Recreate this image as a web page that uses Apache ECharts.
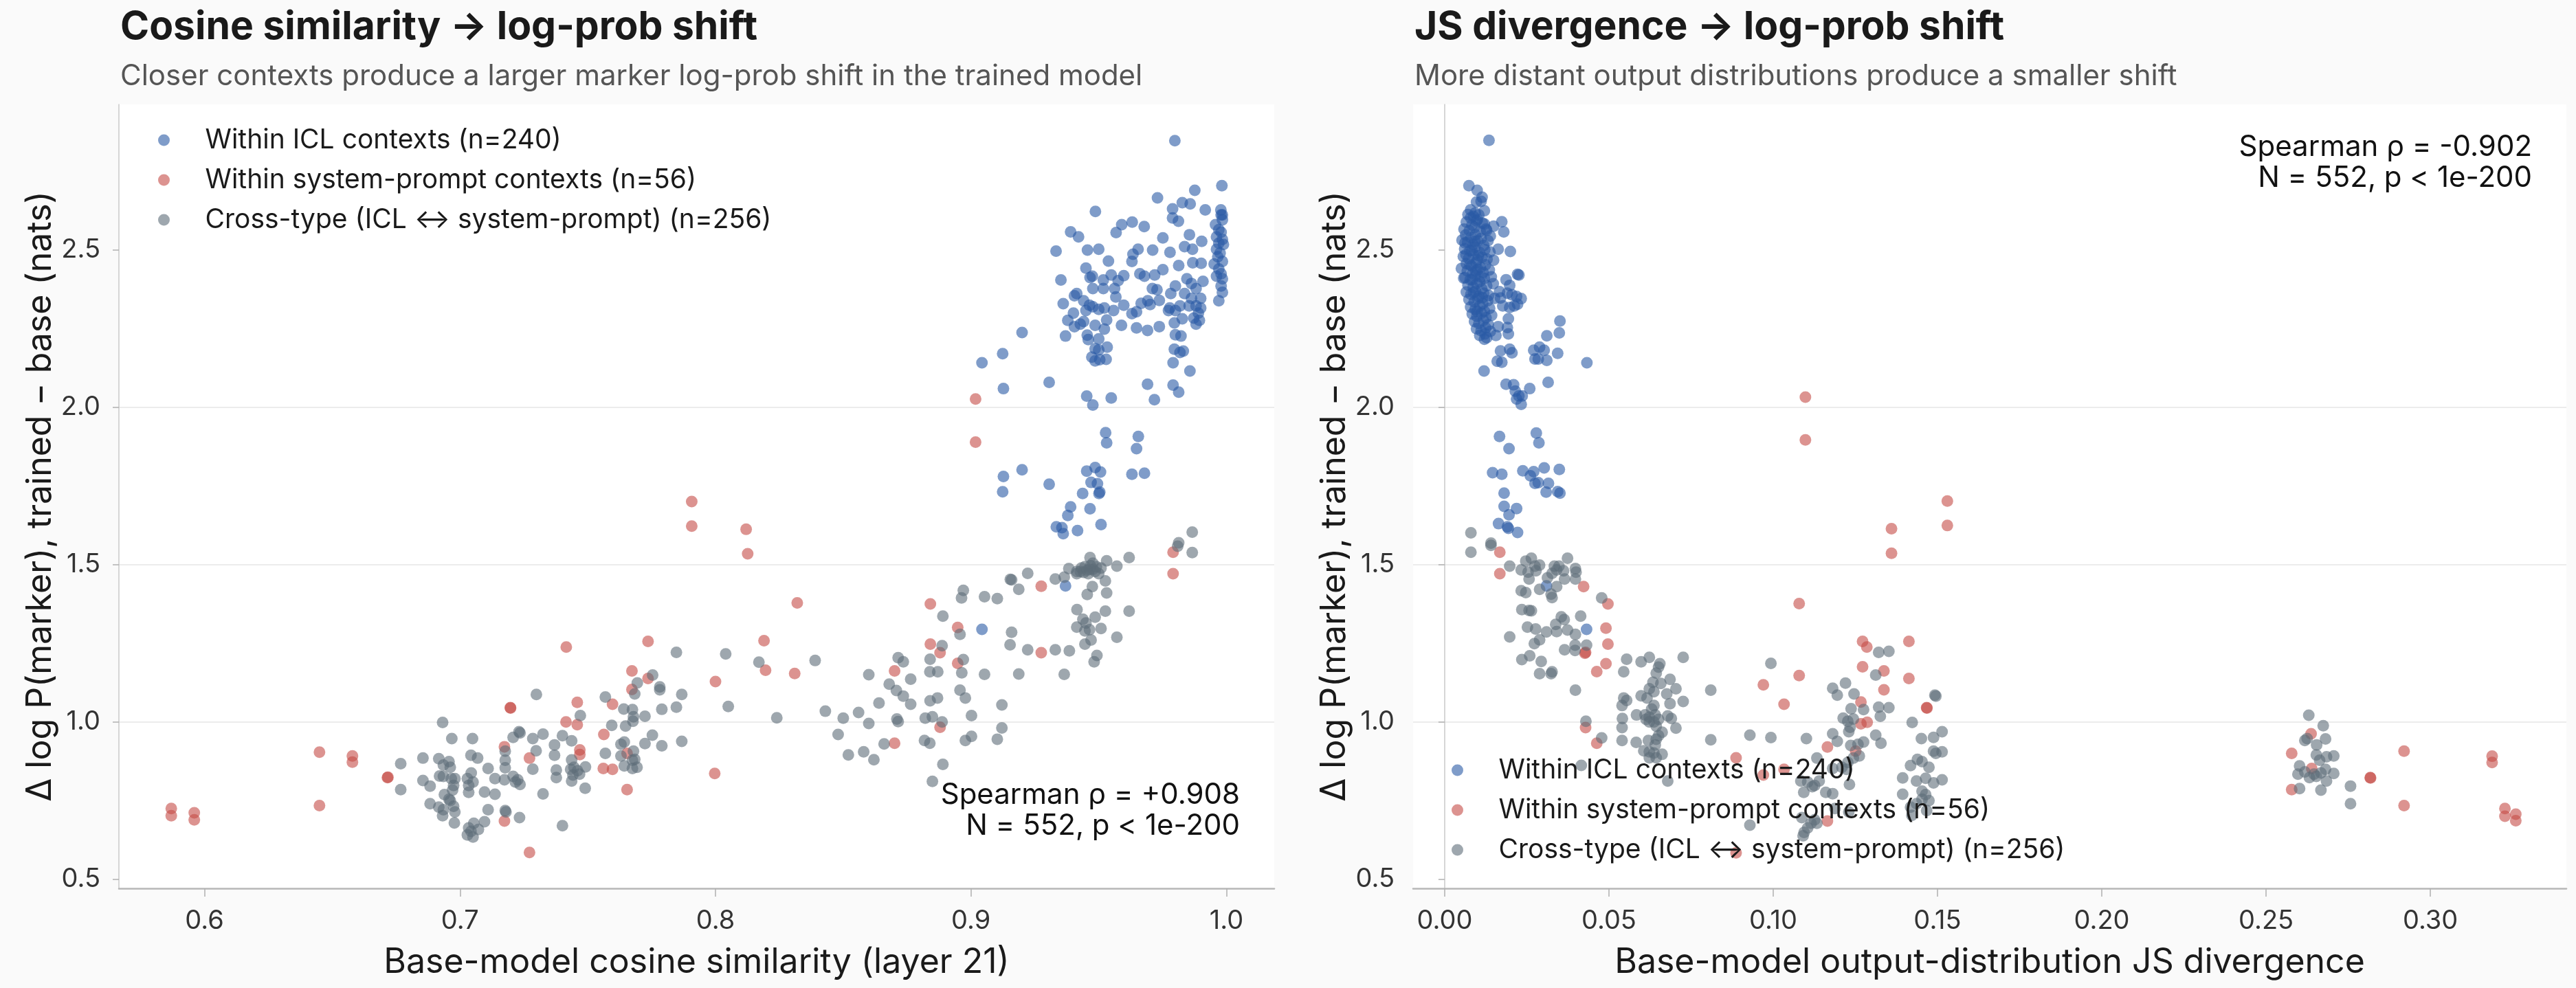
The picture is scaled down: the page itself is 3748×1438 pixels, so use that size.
<!DOCTYPE html>
<html>
<head>
<meta charset="utf-8">
<script src="https://cdn.jsdelivr.net/npm/echarts@6/dist/echarts.min.js"></script>
<style>
  html, body { margin: 0; padding: 0; background: #fafafa; }
  #chart { width: 3748px; height: 1438px; }
</style>
</head>
<body>
<div id="chart"></div>
<script>
// tick values
const cosTicks = [0.6, 0.7, 0.8, 0.9, 1.0]
const jsTicks = [0.0, 0.05, 0.10, 0.15, 0.20, 0.25, 0.30]
const shiftTicks = [0.5, 1.0, 1.5, 2.0, 2.5]

// series names
const seriesNames = [
  'Within ICL contexts (n=240)',
  'Within system-prompt contexts (n=56)',
  'Cross-type (ICL \u2194 system-prompt) (n=256)'
]

// left panel: [cosine similarity, log-prob shift]
const cosIcl = [
  [0.9798,2.847],[0.9982,2.704],[0.9876,2.689],[0.9730,2.665],[0.9827,2.650],[0.9858,2.646],[0.9789,2.630],[0.9917,2.627],[0.9978,2.627],[0.9487,2.622],[0.9789,2.601],[0.9812,2.591],[0.9984,2.611],[0.9590,2.580],[0.9631,2.588],[0.9678,2.574],[0.9568,2.555],[0.9390,2.557],[0.9421,2.541],[0.9751,2.538],[0.9855,2.548],[0.9903,2.527],
  [0.9333,2.496],[0.9456,2.499],[0.9500,2.502],[0.9654,2.502],[0.9711,2.499],[0.9779,2.492],[0.9836,2.510],[0.9867,2.502],[0.9538,2.464],[0.9630,2.463],[0.9634,2.486],[0.9450,2.442],[0.9751,2.437],[0.9813,2.450],[0.9868,2.459],[0.9901,2.457],
  [0.9475,2.416],[0.9466,2.412],[0.9549,2.420],[0.9598,2.418],[0.9576,2.402],[0.9661,2.424],[0.9679,2.416],[0.9719,2.420],[0.9352,2.404],[0.9518,2.404],[0.9518,2.377],[0.9477,2.377],[0.9562,2.377],[0.9710,2.377],[0.9728,2.373],[0.9800,2.385],
  [0.9845,2.408],[0.9863,2.393],[0.9881,2.377],[0.9908,2.400],[0.9836,2.361],[0.9863,2.346],[0.9899,2.346],[0.9881,2.322],[0.9854,2.322],[0.9970,2.338],
  [0.9405,2.354],[0.9414,2.361],[0.9361,2.329],[0.9441,2.338],[0.9464,2.324],[0.9477,2.319],[0.9500,2.311],[0.9522,2.315],[0.9567,2.350],[0.9558,2.307],[0.9598,2.324],
  [0.9666,2.330],[0.9692,2.338],[0.9701,2.326],[0.9737,2.339],[0.9778,2.315],[0.9800,2.307],[0.9818,2.322],[0.9782,2.361],[0.9890,2.299],[0.9899,2.315],
  [0.9401,2.299],[0.9450,2.307],[0.9630,2.297],[0.9648,2.303],[0.9379,2.276],[0.9405,2.256],[0.9428,2.264],[0.9441,2.272],[0.9531,2.277],[0.9589,2.260],[0.9773,2.307],[0.9796,2.268],[0.9827,2.281],[0.9872,2.283],[0.9894,2.276],[0.9881,2.264],
  [0.9486,2.260],[0.9522,2.248],[0.9648,2.252],[0.9691,2.244],[0.9737,2.256],[0.9370,2.226],[0.9455,2.229],[0.9459,2.215],[0.9500,2.217],[0.9800,2.230],[0.9822,2.226],
  [0.9486,2.186],[0.9500,2.182],[0.9533,2.191],[0.9473,2.159],[0.9486,2.147],[0.9504,2.151],[0.9529,2.152],[0.9796,2.184],[0.9818,2.174],[0.9831,2.178],[0.9791,2.141],[0.9857,2.115],
  [0.9200,2.237],[0.9124,2.170],[0.9043,2.141],[0.9127,2.059],[0.9306,2.079],[0.9691,2.073],[0.9791,2.070],[0.9813,2.048],[0.9453,2.035],[0.9477,2.007],[0.9549,2.029],[0.9718,2.024],
  [0.9527,1.919],[0.9531,1.887],[0.9655,1.907],[0.9648,1.868],[0.9127,1.780],[0.9200,1.801],[0.9306,1.755],[0.9124,1.731],[0.9453,1.797],[0.9486,1.808],[0.9507,1.794],[0.9470,1.761],[0.9495,1.757],[0.9630,1.787],[0.9679,1.790],[0.9437,1.726],[0.9501,1.726],[0.9504,1.730],
  [0.9390,1.683],[0.9466,1.677],[0.9379,1.656],[0.9334,1.620],[0.9356,1.617],[0.9361,1.598],[0.9417,1.608],[0.9509,1.627],[0.9370,1.432],[0.9043,1.294],
  [0.9979,2.611],[0.9984,2.595],[0.9957,2.580],[0.9970,2.564],[0.9979,2.556],[0.9961,2.541],[0.9984,2.533],[0.9970,2.521],[0.9988,2.517],[0.9961,2.502],[0.9975,2.490],[0.9966,2.478],[0.9984,2.463],[0.9952,2.455],[0.9970,2.439],[0.9979,2.424],[0.9961,2.416],[0.9984,2.408],[0.9979,2.385],[0.9984,2.365]
]

const cosSys = [
  [0.9018,2.026],[0.9018,1.889],
  [0.9791,1.539],[0.9791,1.471],[0.9275,1.431],[0.8841,1.375],[0.8948,1.300],[0.8841,1.247],[0.8879,1.220],[0.8948,1.186],[0.9275,1.220],[0.8701,1.162],[0.8879,0.983],[0.8701,0.932],
  [0.6579,0.892],[0.6579,0.872],[0.6716,0.823],[0.6718,0.824],[0.7197,1.045],[0.7198,1.044],[0.7416,1.238],[0.7736,1.256],[0.7673,1.162],[0.7736,1.138],[0.7673,1.103],[0.7597,1.056],[0.7459,1.062],[0.7415,1.000],[0.7459,0.991],[0.7174,0.921],[0.7272,0.885],[0.7469,0.911],[0.7469,0.896],[0.7563,0.960],[0.7561,0.852],[0.7597,0.849],[0.7654,0.900],[0.7654,0.785],[0.7174,0.685],[0.7272,0.585],
  [0.587,0.725],[0.587,0.702],[0.596,0.711],[0.596,0.689],[0.645,0.904],[0.645,0.734],
  [0.7907,1.700],[0.7907,1.622],[0.812,1.612],[0.8126,1.534],[0.832,1.378],[0.819,1.258],[0.8196,1.164],[0.831,1.154],[0.800,1.128],[0.7997,0.836]
]

const cosCross = [
  [0.9866,1.603],[0.9813,1.569],[0.9809,1.558],[0.9866,1.538],[0.9619,1.522],[0.9466,1.522],[0.9531,1.512],[0.9571,1.495],
  [0.9383,1.487],[0.9414,1.478],[0.9414,1.471],[0.9432,1.489],[0.9446,1.493],[0.9455,1.482],[0.9468,1.496],[0.9477,1.485],[0.9486,1.478],[0.9491,1.493],[0.9500,1.471],[0.9509,1.489],[0.9459,1.471],[0.9441,1.475],[0.9477,1.504],[0.9428,1.478],[0.9464,1.485],
  [0.9365,1.460],[0.9330,1.454],[0.9526,1.448],[0.9475,1.430],[0.9455,1.405],[0.9531,1.410],[0.9222,1.472],[0.9154,1.453],[0.9159,1.451],[0.9187,1.421],[0.8970,1.418],[0.8963,1.394],[0.9053,1.398],[0.9103,1.392],[0.8890,1.336],[0.8957,1.278],[0.9159,1.285],[0.9153,1.245],[0.9222,1.229],[0.9330,1.229],[0.9385,1.226],
  [0.9415,1.357],[0.9438,1.326],[0.9486,1.333],[0.9526,1.352],[0.9619,1.352],[0.9414,1.301],[0.9450,1.314],[0.9446,1.289],[0.9464,1.293],[0.9509,1.297],[0.9470,1.260],[0.9446,1.247],[0.9571,1.269],[0.9493,1.211],[0.9482,1.191],
  [0.8887,1.242],[0.8840,1.199],[0.8970,1.198],[0.8839,1.159],[0.8870,1.159],[0.8964,1.156],[0.9053,1.151],[0.9187,1.152],[0.9365,1.151],[0.8715,1.204],[0.8735,1.191],[0.8764,1.136],[0.8708,1.100],[0.8735,1.082],[0.8764,1.056],[0.8957,1.101],[0.8978,1.076],[0.8840,1.067],[0.8869,1.076],[0.9121,1.054],[0.9002,1.020],[0.8821,1.012],[0.8849,1.016],[0.8887,1.000],[0.8710,1.009],[0.8715,1.001],[0.9121,0.981],[0.9002,0.954],[0.8978,0.941],[0.9103,0.945],[0.8818,0.941],[0.8839,0.932],[0.8890,0.865],[0.8849,0.811],
  [0.6932,0.998],[0.6968,0.947],[0.7049,0.947],[0.6768,0.867],[0.6768,0.785],[0.6855,0.885],[0.6855,0.814],[0.6883,0.796],[0.6883,0.740],[0.6917,0.883],[0.6935,0.863],[0.6957,0.874],[0.6962,0.856],[0.6920,0.828],[0.6935,0.827],[0.6966,0.820],[0.6980,0.820],[0.6975,0.798],[0.6971,0.783],[0.6939,0.769],[0.6957,0.754],[0.6962,0.750],[0.6917,0.729],[0.6935,0.721],[0.6975,0.732],[0.6980,0.714],[0.6932,0.702],[0.6978,0.679],
  [0.7043,0.894],[0.7069,0.885],[0.7044,0.838],[0.7029,0.820],[0.7051,0.809],[0.7034,0.798],[0.7034,0.776],[0.7096,0.777],[0.7137,0.770],[0.7110,0.852],[0.7137,0.820],[0.7177,0.907],[0.7177,0.878],[0.7177,0.854],[0.7174,0.816],[0.7110,0.721],[0.7177,0.718],[0.7180,0.714],[0.7233,0.696],[0.7096,0.683],[0.7054,0.678],[0.7034,0.663],[0.7043,0.652],[0.7029,0.641],[0.7051,0.634],[0.7072,0.658],
  [0.7208,0.951],[0.7231,0.969],[0.7235,0.965],[0.7208,0.827],[0.7226,0.816],[0.7235,0.801],[0.7217,0.809],[0.7285,0.947],[0.7325,0.961],[0.7298,0.908],[0.7285,0.850],[0.7325,0.771],[0.7299,1.087],[0.7370,0.927],[0.7370,0.894],[0.7377,0.847],[0.7377,0.823],[0.7401,0.956],[0.7437,0.940],[0.7471,1.020],[0.7437,0.879],[0.7433,0.849],[0.7446,0.856],[0.7468,0.834],[0.7460,0.845],[0.7442,0.831],[0.7437,0.812],[0.7491,0.857],[0.7490,0.789],[0.7401,0.670],
  [0.7569,1.079],[0.7594,0.989],[0.7569,0.900],[0.7641,1.041],[0.7675,1.039],[0.7679,1.016],[0.7677,1.002],[0.7648,0.987],[0.7694,1.124],[0.7684,1.089],[0.7754,1.149],[0.7782,1.111],[0.7782,1.102],[0.7724,1.018],[0.7790,1.040],[0.7847,1.221],[0.7868,1.087],[0.7847,1.047],[0.7753,0.958],[0.7724,0.931],[0.7790,0.924],[0.7868,0.938],[0.7630,0.929],[0.7643,0.936],[0.7630,0.892],[0.7679,0.907],[0.7675,0.878],[0.7684,0.881],[0.7643,0.860],[0.7675,0.852],[0.7693,0.856],
  [0.804,1.216],[0.817,1.190],[0.839,1.195],[0.805,1.049],[0.824,1.013],[0.843,1.034],[0.850,1.012],[0.856,1.030],[0.860,0.995],[0.852,0.895],[0.858,0.905],[0.862,0.880],[0.866,0.930],[0.864,1.060],[0.848,0.960],[0.868,1.120],[0.860,1.150]
]

// right panel: [JS divergence, log-prob shift]
const jsIcl = [
  [0.0135,2.848],[0.0074,2.704],[0.0099,2.689],[0.0114,2.667],[0.0097,2.652],[0.0111,2.654],[0.0079,2.627],[0.0121,2.624],[0.0093,2.617],[0.0079,2.602],[0.0100,2.597],[0.0174,2.589],[0.0149,2.575],[0.0180,2.557],[0.0121,2.582],[0.0128,2.562],[0.0139,2.544],
  [0.0062,2.522],[0.0065,2.485],[0.0058,2.410],[0.0163,2.502],[0.0200,2.495],[0.0149,2.467],[0.0222,2.422],[0.0226,2.420],[0.0187,2.405],[0.0198,2.387],[0.0167,2.367],[0.0191,2.362],[0.0170,2.347],[0.0205,2.357],[0.0219,2.352],[0.0233,2.345],[0.0177,2.322],[0.0198,2.317],[0.0212,2.322],[0.0222,2.327],[0.0194,2.281],[0.0191,2.253],[0.0194,2.233],[0.0163,2.256],[0.0156,2.228],[0.0128,2.221],[0.0121,2.216],[0.0170,2.179],[0.0198,2.184],[0.0205,2.173],[0.0160,2.146],[0.0174,2.143],[0.0120,2.115],
  [0.0351,2.274],[0.0311,2.227],[0.0349,2.236],[0.0271,2.181],[0.0289,2.191],[0.0303,2.181],[0.0275,2.153],[0.0285,2.153],[0.0311,2.149],[0.0344,2.171],[0.0433,2.141],[0.0315,2.079],[0.0187,2.073],[0.0210,2.071],[0.0215,2.051],[0.0226,2.036],[0.0236,2.036],[0.0219,2.026],[0.0233,2.009],[0.0259,2.059],
  [0.0167,1.907],[0.0196,1.868],[0.0279,1.918],[0.0287,1.887],[0.0146,1.792],[0.0174,1.787],[0.0238,1.798],[0.0261,1.782],[0.0271,1.795],[0.0275,1.758],[0.0285,1.760],[0.0303,1.807],[0.0349,1.802],[0.0316,1.758],[0.0309,1.730],[0.0344,1.732],[0.0351,1.727],[0.0181,1.727],[0.0181,1.685],[0.0219,1.678],[0.0196,1.658],[0.0164,1.630],[0.0191,1.620],[0.0194,1.615],[0.0222,1.602],
  [0.0310,1.432],[0.0432,1.294],
  [0.0071,2.612],[0.0088,2.606],[0.0104,2.611],[0.0066,2.588],[0.0083,2.579],[0.0097,2.592],[0.0115,2.585],[0.0059,2.566],[0.0075,2.561],[0.0091,2.571],[0.0108,2.558],[0.0126,2.566],
  [0.0064,2.547],[0.0080,2.539],[0.0094,2.548],[0.0111,2.536],[0.0053,2.531],[0.0070,2.524],[0.0086,2.517],[0.0101,2.528],[0.0119,2.514],[0.0132,2.529],
  [0.0061,2.503],[0.0077,2.497],[0.0092,2.508],[0.0106,2.492],[0.0122,2.501],[0.0138,2.493],[0.0057,2.479],[0.0073,2.472],[0.0089,2.484],[0.0099,2.468],[0.0114,2.477],[0.0129,2.470],
  [0.0066,2.456],[0.0082,2.449],[0.0096,2.459],[0.0109,2.444],[0.0124,2.452],[0.0051,2.441],[0.0069,2.433],[0.0085,2.426],[0.0101,2.437],[0.0117,2.428],[0.0136,2.436],
  [0.0062,2.412],[0.0078,2.405],[0.0093,2.417],[0.0107,2.399],[0.0121,2.409],[0.0142,2.414],[0.0071,2.388],[0.0087,2.381],[0.0098,2.392],[0.0113,2.376],[0.0128,2.386],[0.0148,2.392],
  [0.0066,2.366],[0.0080,2.359],[0.0094,2.368],[0.0104,2.352],[0.0119,2.362],[0.0134,2.355],[0.0074,2.342],[0.0090,2.335],[0.0101,2.345],[0.0116,2.329],[0.0131,2.338],[0.0152,2.346],
  [0.0079,2.318],[0.0093,2.311],[0.0107,2.322],[0.0121,2.305],[0.0137,2.314],[0.0084,2.296],[0.0098,2.289],[0.0112,2.299],[0.0126,2.284],[0.0143,2.292],
  [0.0091,2.272],[0.0104,2.266],[0.0118,2.276],[0.0133,2.262],[0.0097,2.249],[0.0111,2.243],[0.0125,2.252],[0.0139,2.241],[0.0107,2.228],[0.0123,2.233],
  [0.0083,2.498],[0.0095,2.433],[0.0088,2.365],[0.0110,2.414],[0.0077,2.452],[0.0103,2.481],[0.0115,2.348],[0.0092,2.527],[0.0084,2.405],[0.0099,2.304]
]

const jsSys = [
  [0.0168,1.539],[0.0168,1.471],[0.0423,1.430],[0.0497,1.375],[0.0491,1.298],[0.0497,1.247],[0.0427,1.218],[0.0429,1.221],[0.0491,1.185],[0.0463,1.160],[0.0429,0.982],[0.0463,0.932],[0.0887,0.886],[0.0970,1.118],[0.0970,0.831],[0.0887,0.584],
  [0.1079,1.376],[0.1272,1.256],[0.1285,1.238],[0.1413,1.256],[0.1272,1.175],[0.1337,1.162],[0.1413,1.138],[0.1337,1.102],[0.1079,1.147],[0.1033,1.056],[0.1267,1.063],[0.1467,1.045],[0.1468,1.044],[0.1267,0.994],[0.1286,0.999],[0.1165,0.920],[0.1251,0.907],[0.1033,0.849],[0.1165,0.685],
  [0.2637,0.962],[0.2578,0.900],[0.2639,0.852],[0.2578,0.785],[0.2817,0.823],[0.2818,0.822],[0.2920,0.907],[0.2920,0.734],[0.3188,0.891],[0.3188,0.871],[0.3227,0.725],[0.3227,0.700],[0.3260,0.707],[0.3260,0.686],
  [0.1098,2.032],[0.1098,1.896],[0.1360,1.614],[0.1360,1.536],[0.1530,1.702],[0.1530,1.624]
]

const jsCross = [
  [0.0080,1.601],[0.0080,1.539],[0.0141,1.568],[0.0141,1.561],[0.0198,1.495],[0.0264,1.520],[0.0247,1.511],[0.0233,1.483],[0.0254,1.476],[0.0275,1.495],[0.0289,1.498],[0.0278,1.480],[0.0257,1.454],[0.0233,1.417],[0.0247,1.411],[0.0289,1.421],[0.0313,1.458],[0.0327,1.472],[0.0334,1.495],[0.0348,1.495],[0.0341,1.483],[0.0365,1.454],[0.0374,1.520],[0.0362,1.480],[0.0398,1.487],[0.0400,1.476],[0.0398,1.454],[0.0341,1.430],[0.0324,1.406],[0.0327,1.395],[0.0235,1.357],[0.0257,1.354],[0.0264,1.353],[0.0478,1.394],[0.0414,1.336],[0.0355,1.334],[0.0364,1.325],[0.0338,1.310],[0.0252,1.301],[0.0277,1.295],[0.0310,1.286],[0.0341,1.287],[0.0374,1.292],[0.0398,1.278],[0.0198,1.270],[0.0289,1.261],[0.0273,1.249],[0.0397,1.244],[0.0432,1.244],[0.0365,1.229],[0.0397,1.227],[0.0235,1.198],[0.0259,1.210],[0.0294,1.192],[0.0289,1.153],[0.0324,1.153],[0.0327,1.159],[0.0398,1.101],
  [0.0554,1.199],[0.0545,1.159],[0.0598,1.191],[0.0623,1.205],[0.0655,1.185],[0.0651,1.174],[0.0644,1.155],[0.0726,1.205],[0.0686,1.135],[0.0658,1.122],[0.0634,1.126],[0.0623,1.105],[0.0637,1.096],[0.0704,1.105],[0.0676,1.089],[0.0598,1.083],[0.0616,1.076],[0.0545,1.076],[0.0554,1.068],[0.0540,1.052],[0.0726,1.065],[0.0686,1.058],[0.0637,1.052],[0.0630,1.041],[0.0584,1.022],[0.0610,1.022],[0.0623,1.015],[0.0641,1.022],[0.0651,1.008],[0.0637,1.000],[0.0623,1.000],[0.0613,1.008],[0.0679,1.019],[0.0690,1.011],[0.0541,1.011],[0.0540,0.982],[0.0704,0.980],[0.0644,0.986],[0.0662,0.967],[0.0651,0.956],[0.0644,0.945],[0.0620,0.941],[0.0583,0.935],[0.0540,0.941],[0.0478,0.949],[0.0430,1.002],[0.0641,0.927],[0.0606,0.908],[0.0623,0.905],[0.0637,0.901],[0.0662,0.897],[0.0623,0.886],[0.0644,0.886],[0.0679,0.812],[0.0416,0.862],[0.0810,1.101],[0.0810,0.943],[0.0929,0.958],[0.0993,1.186],[0.0993,0.950],[0.0929,0.672],
  [0.1321,1.221],[0.1352,1.224],[0.1312,1.149],[0.1181,1.107],[0.1195,1.085],[0.1220,1.123],[0.1246,1.089],[0.1492,1.085],[0.1495,1.082],[0.1237,1.042],[0.1275,1.039],[0.1321,1.047],[0.1352,1.045],[0.1326,1.018],[0.1213,1.012],[0.1227,1.002],[0.1244,1.009],[0.1234,0.983],[0.1230,0.969],[0.1423,0.998],[0.1101,0.947],[0.1181,0.962],[0.1195,0.938],[0.1236,0.925],[0.1258,0.929],[0.1275,0.936],[0.1312,0.958],[0.1328,0.932],[0.1451,0.947],[0.1488,0.951],[0.1514,0.969],[0.1488,0.907],[0.1495,0.900],[0.1514,0.905],[0.1244,0.885],[0.1227,0.871],[0.1209,0.856],[0.1223,0.849],[0.1262,0.892],[0.1133,0.885],[0.1181,0.852],[0.1439,0.881],[0.1453,0.874],[0.1474,0.856],[0.1418,0.861],[0.1394,0.822],[0.1436,0.812],[0.1464,0.821],[0.1488,0.806],[0.1514,0.816],[0.1084,0.812],[0.1105,0.809],[0.1126,0.798],[0.1140,0.812],[0.1119,0.794],[0.1093,0.776],[0.1160,0.776],[0.1181,0.772],[0.1232,0.801],[0.1394,0.770],[0.1453,0.780],[0.1464,0.769],[0.1474,0.750],[0.1453,0.754],[0.1418,0.729],[0.1436,0.740],[0.1467,0.718],[0.1422,0.703],[0.1087,0.696],[0.1115,0.678],[0.1133,0.678],[0.1126,0.689],[0.1105,0.663],[0.1094,0.649],[0.1091,0.638],[0.1188,0.725],[0.1230,0.714],
  [0.2630,1.021],[0.2674,0.988],[0.2625,0.947],[0.2618,0.941],[0.2681,0.946],[0.2654,0.927],[0.2653,0.895],[0.2684,0.889],[0.2706,0.892],[0.2663,0.878],[0.2602,0.860],[0.2597,0.834],[0.2618,0.841],[0.2632,0.823],[0.2646,0.834],[0.2653,0.827],[0.2667,0.838],[0.2681,0.849],[0.2684,0.812],[0.2706,0.836],[0.2602,0.788],[0.2667,0.783],[0.2757,0.796],[0.2757,0.740]
]

const colors = ['#2a5aa5', '#c54b46', '#5d6c78']
const font = 'Inter, "Noto Sans", sans-serif'

const chart = echarts.init(document.getElementById('chart'))

// 公共坐标轴样式
const axisBase = (ticks, digits) => ({
  type: 'value',
  axisLine: { show: true, lineStyle: { color: '#b8b8b8', width: 2.5 } },
  axisTick: { show: true, length: 12, customValues: ticks, lineStyle: { color: '#b0b0b0', width: 1.5 } },
  axisLabel: {
    customValues: ticks,
    fontSize: 38, color: '#333', fontFamily: font, margin: 29,
    formatter: v => v.toFixed(digits)
  },
  splitLine: { show: false },
  nameLocation: 'middle',
  nameGap: 83,
  nameTextStyle: { fontSize: 50, color: '#1a1a1a', fontFamily: font }
})

const yAxisBase = () => ({
  type: 'value',
  min: 0.471,
  max: 2.962,
  axisLine: { show: true, lineStyle: { color: '#c8c8c8', width: 1.5 } },
  axisTick: { show: true, length: 9, customValues: shiftTicks, lineStyle: { color: '#b0b0b0', width: 1.5 } },
  axisLabel: {
    customValues: shiftTicks,
    fontSize: 38, color: '#333', fontFamily: font, margin: 27,
    formatter: v => v.toFixed(1)
  },
  splitLine: { show: true, showMinLine: false, showMaxLine: false, lineStyle: { color: '#ececec', width: 2 } },
  name: 'Δ log P(marker), trained \u2212 base (nats)',
  nameLocation: 'middle',
  nameGap: 89,
  nameTextStyle: { fontSize: 50, color: '#1a1a1a', fontFamily: font }
})

const scatter = (name, data, idx, color) => ({
  name,
  type: 'scatter',
  xAxisIndex: idx,
  yAxisIndex: idx,
  data,
  symbolSize: 17,
  itemStyle: { color, opacity: 0.6 },
  emphasis: { disabled: true }
})

const titleBase = (text, subtext, left) => ({
  text, subtext, left, top: 6, itemGap: 22,
  textStyle: { fontSize: 57, fontWeight: 'bold', color: '#1a1a1a', fontFamily: font },
  subtextStyle: { fontSize: 42, color: '#555', fontFamily: font }
})

const legendBase = (left, top) => ({
  data: seriesNames, orient: 'vertical', left, top,
  itemWidth: 110, itemHeight: 17, itemGap: 18, padding: 0,
  textStyle: { fontSize: 39, color: '#1a1a1a', fontFamily: font, lineHeight: 40 }
})

const noteText = (text, x, y) => ({
  type: 'text', x, y,
  style: { text, align: 'right', textAlign: 'right', verticalAlign: 'top', font: '42px ' + font, fill: '#111', lineHeight: 45 }
})

const option = {
  backgroundColor: '#fafafa',
  animation: false,
  color: colors,
  title: [
    titleBase('Cosine similarity \u2192 log-prob shift', 'Closer contexts produce a larger marker log-prob shift in the trained model', 170),
    titleBase('JS divergence \u2192 log-prob shift', 'More distant output distributions produce a smaller shift', 2053)
  ],
  legend: [legendBase(230, 184), legendBase(2112, 1101)],
  grid: [
    { left: 173, top: 152, width: 1681, height: 1141, show: true, backgroundColor: '#ffffff', borderWidth: 0 },
    { left: 2056, top: 152, width: 1678, height: 1141, show: true, backgroundColor: '#ffffff', borderWidth: 0 }
  ],
  xAxis: [
    Object.assign(axisBase(cosTicks, 1), { gridIndex: 0, min: 0.5665, max: 1.0187, name: 'Base-model cosine similarity (layer 21)' }),
    Object.assign(axisBase(jsTicks, 2), { gridIndex: 1, min: -0.0096, max: 0.3414, name: 'Base-model output-distribution JS divergence' })
  ],
  yAxis: [
    Object.assign(yAxisBase(), { gridIndex: 0 }),
    Object.assign(yAxisBase(), { gridIndex: 1 })
  ],
  graphic: [
    noteText('Spearman ρ = +0.908\nN = 552, p < 1e-200', 1804, 1135),
    noteText('Spearman ρ = -0.902\nN = 552, p < 1e-200', 3684, 192)
  ],
  series: [
    scatter(seriesNames[0], cosIcl, 0, colors[0]),
    scatter(seriesNames[1], cosSys, 0, colors[1]),
    scatter(seriesNames[2], cosCross, 0, colors[2]),
    scatter(seriesNames[0], jsIcl, 1, colors[0]),
    scatter(seriesNames[1], jsSys, 1, colors[1]),
    scatter(seriesNames[2], jsCross, 1, colors[2])
  ]
}

chart.setOption(option)
</script>
</body>
</html>
